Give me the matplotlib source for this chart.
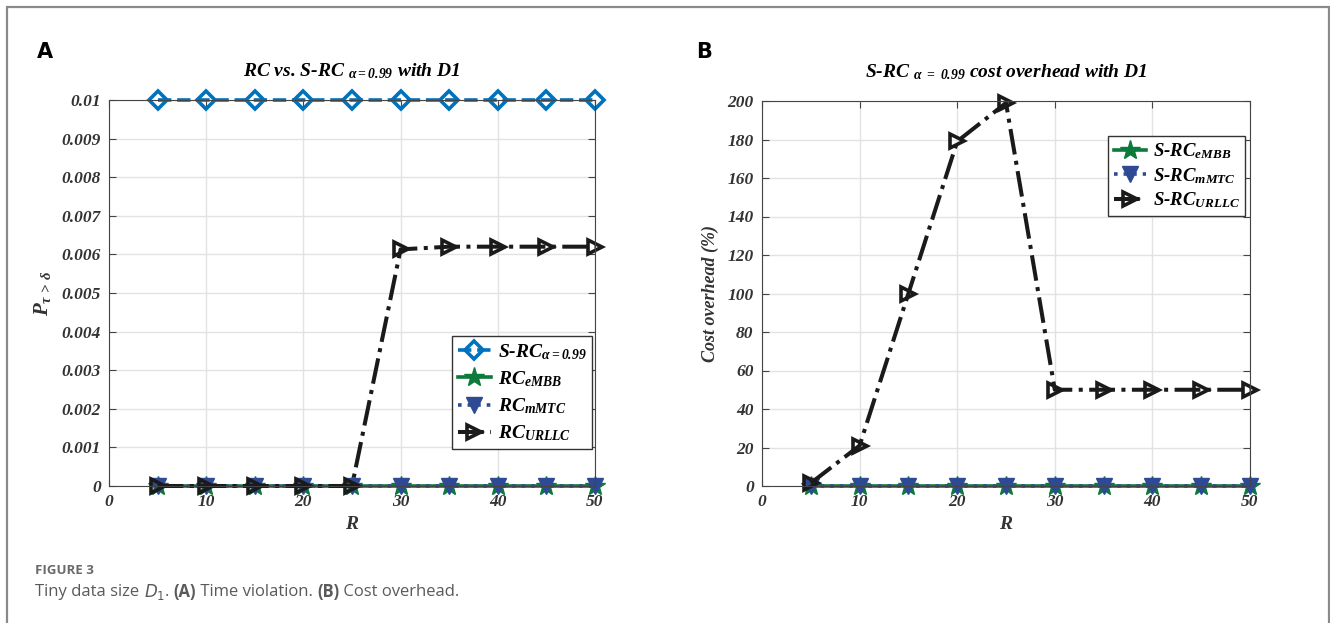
import matplotlib
matplotlib.use("Agg")
import matplotlib.pyplot as plt
from matplotlib.patches import Rectangle

# ---- data ----
R = [5, 10, 15, 20, 25, 30, 35, 40, 45, 50]

# panel A: time violation probability
p_src = [0.01, 0.01, 0.01, 0.01, 0.01, 0.01, 0.01, 0.01, 0.01, 0.01]
p_embb = [0, 0, 0, 0, 0, 0, 0, 0, 0, 0]
p_mmtc = [0, 0, 0, 0, 0, 0, 0, 0, 0, 0]
p_urllc = [0, 0, 0, 0, 0, 0.00613, 0.0062, 0.0062, 0.0062, 0.0062]

# panel B: cost overhead (%)
c_embb = [0, 0, 0, 0, 0, 0, 0, 0, 0, 0]
c_mmtc = [0, 0, 0, 0, 0, 0, 0, 0, 0, 0]
c_urllc = [1.5, 21, 100, 179, 199, 50, 50, 50, 50, 50]

xticks = [0, 10, 20, 30, 40, 50]
yticks_a = [0, 0.001, 0.002, 0.003, 0.004, 0.005, 0.006, 0.007, 0.008, 0.009, 0.01]
ylabels_a = ["0", "0.001", "0.002", "0.003", "0.004", "0.005", "0.006",
             "0.007", "0.008", "0.009", "0.01"]
yticks_b = [0, 20, 40, 60, 80, 100, 120, 140, 160, 180, 200]

SERIF = "Liberation Serif"
plt.rcParams["font.family"] = SERIF
plt.rcParams["mathtext.fontset"] = "custom"
plt.rcParams["mathtext.rm"] = "Liberation Serif:bold:italic"
plt.rcParams["mathtext.it"] = "Liberation Serif:bold:italic"
plt.rcParams["mathtext.bf"] = "Liberation Serif:bold:italic"

BLUE = "#0072BD"
GREEN = "#0B7A3B"
NAVY = "#2E4A94"
BLACK = "#1a1a1a"
TICK = "#333333"

fig = plt.figure(figsize=(13.3, 6.23), dpi=100)
W, H = 1330, 623

# outer frame of the figure panel
fig.patches.append(Rectangle((7 / W, -0.05), 1322 / W, 1 - 7 / H + 0.05,
                             transform=fig.transFigure, fill=False,
                             edgecolor="#8a8a8a", linewidth=1.6))

axA = fig.add_axes([109 / W, 1 - 486 / H, 486 / W, 386 / H])
axB = fig.add_axes([762 / W, 1 - 486 / H, 488 / W, 385 / H])


def style(ax):
    ax.set_xlim(0, 50)
    ax.set_xticks(xticks)
    ax.grid(True, color="#e2e2e2", linewidth=1.0)
    ax.set_axisbelow(True)
    ax.tick_params(direction="in", top=True, right=True, length=5,
                   width=0.8, color="#444444", labelcolor=TICK,
                   labelsize=12.5, pad=6)
    for lab in ax.get_xticklabels() + ax.get_yticklabels():
        lab.set_fontweight("bold")
        lab.set_fontstyle("italic")
    for s in ax.spines.values():
        s.set_color("#444444")
        s.set_linewidth(0.8)
    ax.set_xlabel("R", fontsize=14, fontweight="bold", fontstyle="italic",
                  color=TICK, labelpad=4)


lw = 2.6
ms = 10
leg_kw = dict(fancybox=False, edgecolor="#333333", framealpha=1,
              handlelength=1.7, handletextpad=0.35, borderpad=0.3)

# ---- panel A ----
axA.plot(R, p_src, color=BLUE, ls="--", lw=lw, marker="D", ms=ms - 1,
         mfc="none", mew=2.6, label=r"S-RC$_{\alpha=0.99}$", clip_on=False)
axA.plot(R, p_embb, color=GREEN, ls="-", lw=lw, marker="*", ms=ms + 5,
         mfc=GREEN, mew=1, label=r"RC$_{eMBB}$", clip_on=False)
axA.plot(R, p_mmtc, color=NAVY, ls=":", lw=lw, marker="v", ms=ms + 1,
         mfc=NAVY, mew=1, label=r"RC$_{mMTC}$", clip_on=False)
axA.plot(R, p_urllc, color=BLACK, ls="-.", lw=lw + 0.3, marker=">", ms=ms,
         mfc="none", mew=2.6, label=r"RC$_{URLLC}$", clip_on=False)
axA.set_ylim(0, 0.01)
axA.set_yticks(yticks_a)
axA.set_yticklabels(ylabels_a)
style(axA)
axA.set_ylabel(r"P$_{\tau\,>\,\delta}$", fontsize=15, fontweight="bold",
               fontstyle="italic", color=TICK, labelpad=6)
axA.set_title(r"RC vs. S-RC ${}_{\alpha=0.99}$ with D1", fontsize=14,
              fontweight="bold", fontstyle="italic", pad=17)
axA.legend(loc="lower right", bbox_to_anchor=(0.994, 0.096), borderaxespad=0,
           prop={"family": SERIF, "weight": "bold", "style": "italic",
                 "size": 14},
           labelspacing=0.38, **leg_kw)

# ---- panel B ----
axB.plot(R, c_embb, color=GREEN, ls="-", lw=lw, marker="*", ms=ms + 5,
         mfc=GREEN, mew=1, label=r"S-RC$_{eMBB}$", clip_on=False)
axB.plot(R, c_mmtc, color=NAVY, ls=":", lw=lw, marker="v", ms=ms + 1,
         mfc=NAVY, mew=1, label=r"S-RC$_{mMTC}$", clip_on=False)
axB.plot(R, c_urllc, color=BLACK, ls="-.", lw=lw + 0.3, marker=">", ms=ms,
         mfc="none", mew=2.6, label=r"S-RC$_{URLLC}$", clip_on=False)
axB.set_ylim(0, 200)
axB.set_yticks(yticks_b)
style(axB)
axB.set_ylabel("Cost overhead (%)", fontsize=13, fontweight="bold",
               fontstyle="italic", color=TICK, labelpad=6)
axB.set_title(r"S-RC ${}_{\alpha\ =\ 0.99}$ cost overhead with D1",
              fontsize=14, fontweight="bold", fontstyle="italic", pad=17)
axB.legend(loc="upper right", bbox_to_anchor=(0.99, 0.909), borderaxespad=0,
           prop={"family": SERIF, "weight": "bold", "style": "italic",
                 "size": 13.5},
           labelspacing=0.25, **leg_kw)

# panel letters
fig.text(37 / W, 1 - 52 / H, "A", fontsize=15, fontweight="bold",
         family="DejaVu Sans", va="center")
fig.text(696 / W, 1 - 52 / H, "B", fontsize=15, fontweight="bold",
         family="DejaVu Sans", va="center")

# caption
CAP = "#5a5a5a"
fig.text(35 / W, 1 - 570 / H, "FIGURE 3", fontsize=9.5, fontweight="bold",
         family="Open Sans", color="#6a6a6a", va="center")

fig.canvas.draw()
rend = fig.canvas.get_renderer()
parts = [
    ("Tiny data size ", "normal"),
    ("$D_1$", "normal"),
    (". ", "normal"),
    ("(A)", "bold"),
    (" Time violation. ", "normal"),
    ("(B)", "bold"),
    (" Cost overhead.", "normal"),
]
x = 35
for s, wgt in parts:
    t = fig.text(x / W, 1 - 592 / H, s, fontsize=12, fontweight=wgt,
                 family="Open Sans", color=CAP, va="center",
                 math_fontfamily="dejavusans")
    x = t.get_window_extent(rend).x1

fig.savefig("out.png", dpi=100)
